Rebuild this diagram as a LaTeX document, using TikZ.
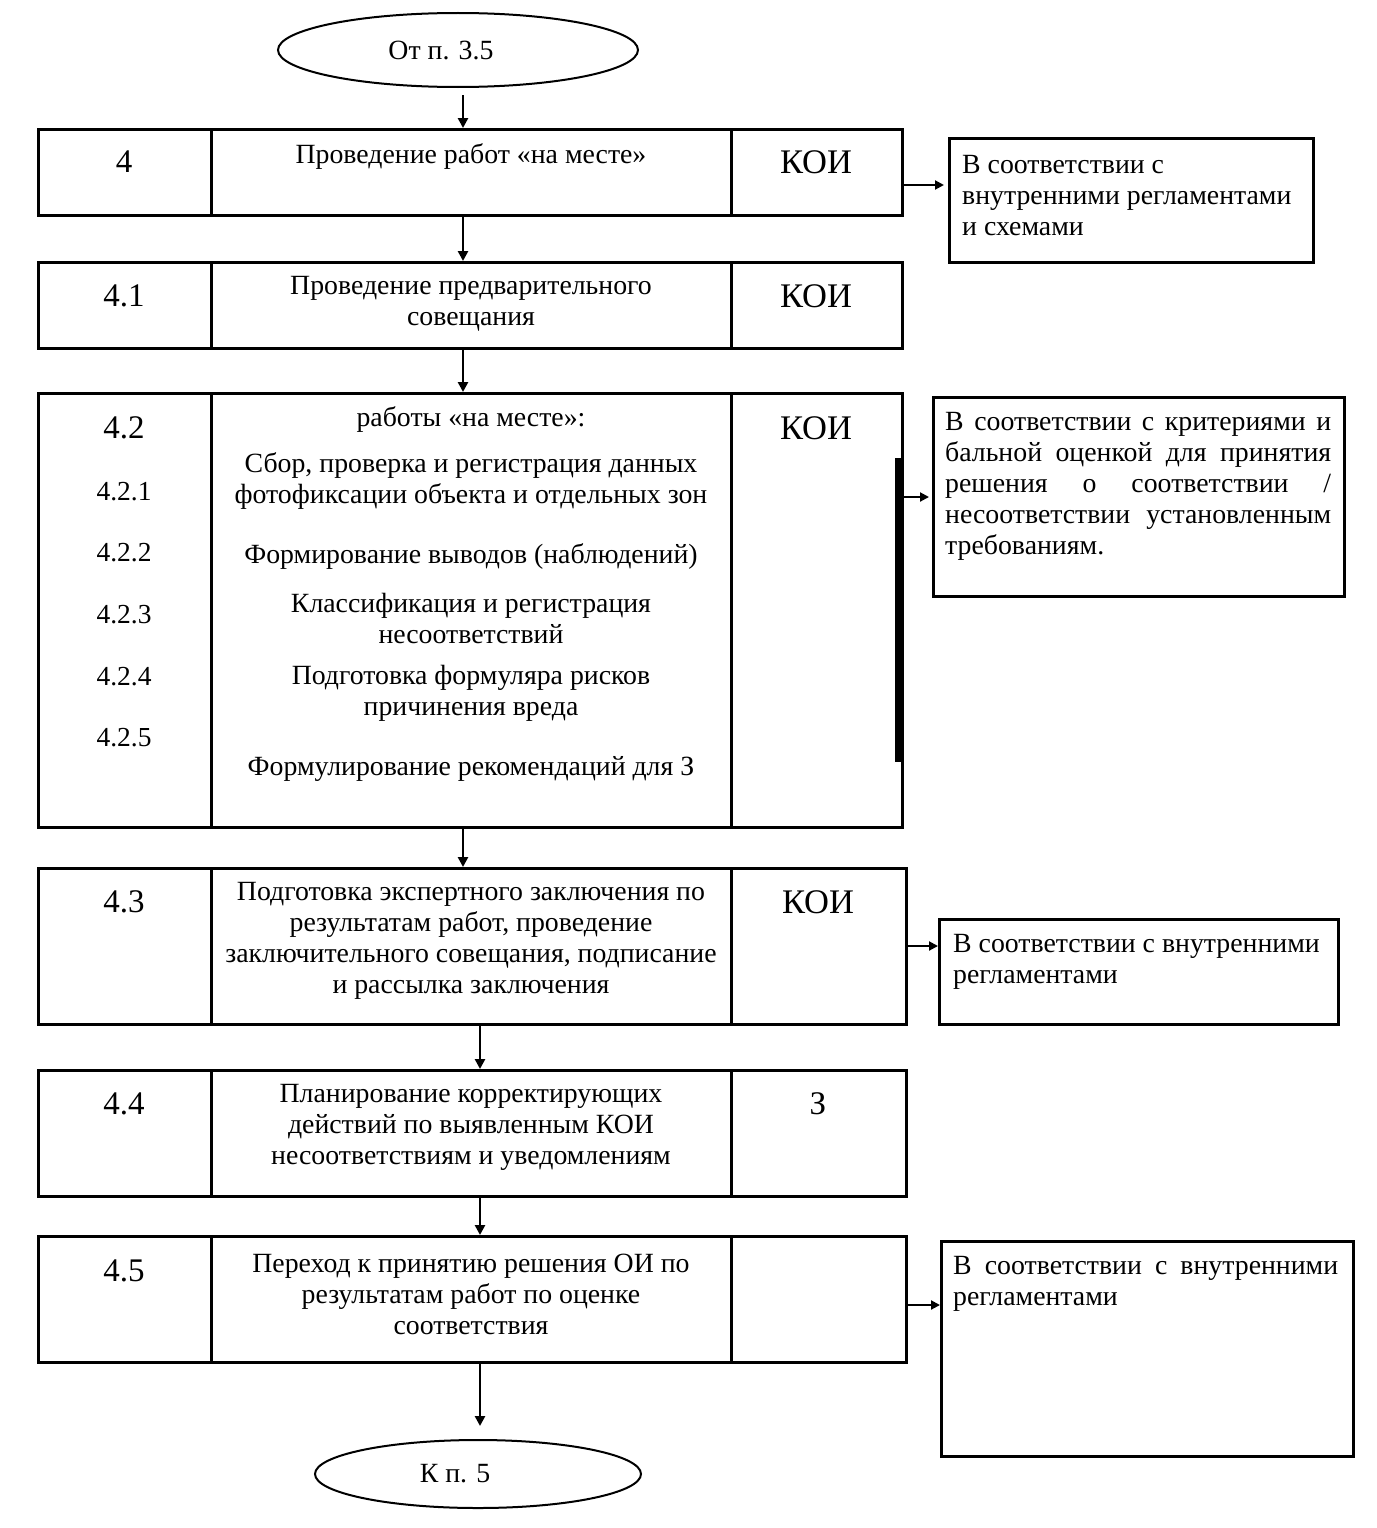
\documentclass[tikz,border=0pt]{standalone}
\usepackage{fontspec}
\setmainfont{Liberation Serif}
\usetikzlibrary{arrows.meta,shapes.geometric,calc}
\newcommand{\fa}{\fontsize{27.8}{31}\selectfont}
\newcommand{\fb}{\fontsize{33}{38}\selectfont}
\newcommand{\fk}{\fontsize{34.5}{40}\selectfont}
\newcommand{\fc}{\fontsize{27.5}{32}\selectfont}
\tikzset{
  rowbox/.style={draw, line width=3pt, inner sep=0pt, anchor=north west},
  sidebox/.style={draw, line width=3pt, inner sep=0pt, anchor=north west},
  divider/.style={line width=3pt},
  oval/.style={draw, ellipse, line width=2pt, inner sep=0pt, font=\fa},
  varr/.style={line width=2.6pt, -{Triangle[length=10pt,width=10pt]}},
  harr/.style={line width=2pt, -{Triangle[length=9pt,width=9pt]}},
  txt/.style={inner sep=0pt, font=\fa, align=center},
  num/.style={inner sep=0pt, font=\fb},
  koi/.style={inner sep=0pt, font=\fk},
  subnum/.style={inner sep=0pt, font=\fc},
  side/.style={inner sep=0pt, font=\fa, anchor=west},
}
\begin{document}
\begin{tikzpicture}[x=1pt,y=-1pt]
\useasboundingbox (0,0) rectangle (1376,1528);
% ovals
\node[oval, minimum width=360pt, minimum height=74pt] (e1) at (458,50) {От п. 3.5\hspace*{34pt}};
\node[oval, minimum width=326pt, minimum height=68pt] (e2) at (478,1474) {К п. 5\hspace*{46pt}};
% rows
\node[rowbox, minimum width=864pt, minimum height=86pt] (r4) at (37,128) {};
\node[rowbox, minimum width=864pt, minimum height=86pt] (r41) at (37,261) {};
\node[rowbox, minimum width=864pt, minimum height=434pt] (r42) at (37,392) {};
\node[rowbox, minimum width=868pt, minimum height=156pt] (r43) at (37,867) {};
\node[rowbox, minimum width=868pt, minimum height=126pt] (r44) at (37,1069) {};
\node[rowbox, minimum width=868pt, minimum height=126pt] (r45) at (37,1235) {};
% dividers
\foreach \ya/\yb in {128/214, 261/347, 392/826, 867/1023, 1069/1195, 1235/1361}{
  \draw[divider] (211,\ya) -- (211,\yb);
  \draw[divider] (731,\ya) -- (731,\yb);
}
% side boxes
\node[sidebox, minimum width=364pt, minimum height=124pt] (s1) at (948,137) {};
\node[sidebox, minimum width=411pt, minimum height=199pt] (s2) at (932,396) {};
\node[sidebox, minimum width=399pt, minimum height=105pt] (s3) at (938,918) {};
\node[sidebox, minimum width=412pt, minimum height=215pt] (s4) at (940,1240) {};
% row 4
\node[num] (n4) at (124,162) {4};
\node[txt] (t4) at (471,157) {Проведение работ «на месте»};
\node[koi] (k4) at (816,162) {КОИ};
% row 4.1
\node[num] (n41) at (124,296) {4.1};
\node[txt] (t41) at (471,304) {Проведение предварительного\\совещания};
\node[koi] (k41) at (816,296) {КОИ};
% row 4.2
\node[num] (n42) at (124,428) {4.2};
\node[subnum] (n421) at (124,492) {4.2.1};
\node[subnum] (n422) at (124,553) {4.2.2};
\node[subnum] (n423) at (124,615) {4.2.3};
\node[subnum] (n424) at (124,677) {4.2.4};
\node[subnum] (n425) at (124,738) {4.2.5};
\node[txt] (t420) at (471,420) {работы «на месте»:};
\node[txt] (t421) at (471,481) {Сбор, проверка и регистрация данных\\фотофиксации объекта и отдельных зон};
\node[txt] (t422) at (471,557) {Формирование выводов (наблюдений)};
\node[txt] (t423) at (471,618) {Классификация и регистрация\\несоответствий};
\node[txt] (t424) at (471,693) {Подготовка формуляра рисков\\причинения вреда};
\node[txt] (t425) at (471,769) {Формулирование рекомендаций для З};
\node[koi] (k42) at (816,428) {КОИ};
% row 4.3
\node[num] (n43) at (124,902) {4.3};
\node[txt] (t43) at (471,941) {Подготовка экспертного заключения по\\результатам работ, проведение\\заключительного совещания, подписание\\и рассылка заключения};
\node[koi] (k43) at (818,902) {КОИ};
% row 4.4
\node[num] (n44) at (124,1104) {4.4};
\node[txt] (t44) at (471,1127) {Планирование корректирующих\\действий по выявленным КОИ\\несоответствиям и уведомлениям};
\node[num] (k44) at (818,1104) {З};
% row 4.5
\node[num] (n45) at (124,1271) {4.5};
\node[txt] (t45) at (471,1294) {Переход к принятию решения ОИ по\\результатам работ по оценке\\соответствия};
% side texts
\node[side, align=left] (x1) at (962,196) {В соответствии с\\внутренними регламентами\\и схемами};
\node[side, text width=386pt, align=justify] (x2) at (945,486) {В соответствии с критериями и\linebreak бальной оценкой для принятия\linebreak решения о соответствии /\linebreak несоответствии установленным\linebreak требованиям.};
\node[side, align=left] (x3) at (953,962) {В соответствии с внутренними\\регламентами};
\node[side, text width=385pt, align=justify] (x4) at (953,1284) {В соответствии с внутренними\linebreak регламентами};
% vertical connectors
\coordinate (ax1) at (463,0);
\coordinate (ax2) at (480,0);
\draw[varr] ([yshift=-7pt]e1.south -| ax1) -- (r4.north -| ax1);
\draw[varr] (r4.south -| ax1) -- (r41.north -| ax1);
\draw[varr] (r41.south -| ax1) -- (r42.north -| ax1);
\draw[varr] (r42.south -| ax1) -- (r43.north -| ax1);
\draw[varr] (r43.south -| ax2) -- (r44.north -| ax2);
\draw[varr] (r44.south -| ax2) -- (r45.north -| ax2);
\draw[varr] (r45.south -| ax2) -- ([yshift=13pt]e2.north -| ax2);
% side connectors
\coordinate (h1) at (0,185);
\coordinate (h2) at (0,497);
\coordinate (h3) at (0,946);
\coordinate (h4) at (0,1305);
\draw[harr] (r4.east |- h1) -- ([xshift=-4pt]s1.west |- h1);
\draw[line width=7pt] (898,458) -- (898,762);
\draw[harr] (r42.east |- h2) -- ([xshift=-3pt]s2.west |- h2);
\draw[harr] (r43.east |- h3) -- (s3.west |- h3);
\draw[harr] (r45.east |- h4) -- (s4.west |- h4);
\end{tikzpicture}
\end{document}
